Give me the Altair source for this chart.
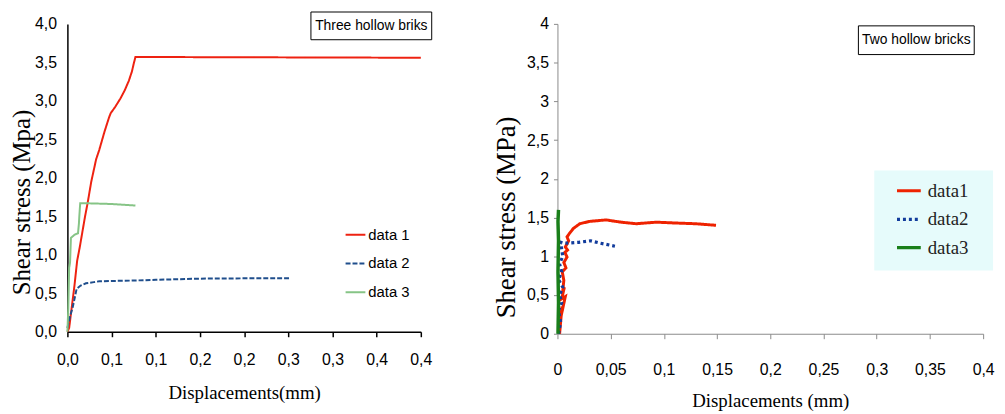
import json
import altair as alt
import pandas as pd

SANS = "Liberation Sans, Arial, sans-serif"
SERIF = "Liberation Serif, Times New Roman, serif"

# ---------------- left panel: Three hollow briks ----------------
L_SERIES = ["data 1", "data 2", "data 3"]
L_COLORS = ["#ee2211", "#1f4e8c", "#86c486"]
L_DASH = [[1, 0], [5, 2], [1, 0]]

L1_X = [0, 0.002, 0.0045, 0.008, 0.011, 0.014, 0.017, 0.020, 0.023, 0.027, 0.0325, 0.036,
        0.042, 0.047, 0.049, 0.054, 0.060, 0.065, 0.0695, 0.073, 0.075, 0.077, 0.4]
L1_Y = [0, 0.05, 0.28, 0.6, 0.92, 1.1, 1.30, 1.5, 1.68, 1.95, 2.24, 2.36,
        2.6, 2.78, 2.84, 2.92, 3.03, 3.14, 3.26, 3.38, 3.48, 3.57, 3.56]

L2_X = [0, 0.003, 0.006, 0.0105, 0.015, 0.021, 0.03, 0.036, 0.05, 0.073, 0.1, 0.148, 0.2, 0.252]
L2_Y = [0.05, 0.2, 0.32, 0.56, 0.6, 0.63, 0.645, 0.656, 0.66, 0.665, 0.675, 0.69, 0.694, 0.694]

L3_X = [0, 0.001, 0.002, 0.003, 0.004, 0.008, 0.012, 0.013, 0.0135, 0.0145, 0.02, 0.05, 0.077]
L3_Y = [0, 0.3, 0.83, 0.9, 1.22, 1.26, 1.28, 1.4, 1.5, 1.67, 1.67, 1.66, 1.64]

L_XTICKS = [0, 0.05, 0.1, 0.15, 0.2, 0.25, 0.3, 0.35, 0.4]
L_XLABELS = ["0,0", "0,1", "0,1", "0,2", "0,2", "0,3", "0,3", "0,4", "0,4"]
L_YTICKS = [0, 0.5, 1, 1.5, 2, 2.5, 3, 3.5, 4]
L_YLABELS = ["0,0", "0,5", "1,0", "1,5", "2,0", "2,5", "3,0", "3,5", "4,0"]
L_BOX = ["Three hollow briks"]

# ---------------- right panel: Two hollow bricks ----------------
R_SERIES = ["data1", "data2", "data3"]
R_COLORS = ["#ee2200", "#123c9c", "#1a7f1a"]
R_DASH = [[1, 0], [3, 3], [1, 0]]

R1_X = [0.002, 0.0043, 0.003, 0.0074, 0.004, 0.0065, 0.005, 0.006, 0.0045, 0.008, 0.006,
        0.009, 0.007, 0.0095, 0.0074, 0.0105, 0.009, 0.011,
        0.015, 0.021, 0.03, 0.038, 0.046, 0.05, 0.06, 0.074, 0.083, 0.093, 0.11, 0.13, 0.149]
R1_Y = [0.0, 0.35, 0.2, 0.48, 0.45, 0.6, 0.55, 0.69, 0.8, 0.85, 0.92,
        0.99, 1.05, 1.08, 1.12, 1.2, 1.25, 1.29,
        1.36, 1.42, 1.45, 1.46, 1.47, 1.46, 1.44, 1.42, 1.43, 1.44, 1.43, 1.42, 1.40]

R2_X = [0.001, 0.003, 0.001, 0.004, 0.002, 0.005, 0.001, 0.004, 0.002, 0.005, 0.003,
        0.0056, 0.01, 0.02, 0.031, 0.04, 0.054]
R2_Y = [0, 0.15, 0.3, 0.4, 0.5, 0.6, 0.7, 0.8, 0.9, 1.0, 1.18,
        1.17, 1.17, 1.18, 1.2, 1.17, 1.13]

R3_X = [0.0005, 0.001, 0.0005, 0.001, 0.0005, 0.001]
R3_Y = [0, 0.4, 0.8, 1.2, 1.45, 1.6]

R_XTICKS = [0, 0.05, 0.1, 0.15, 0.2, 0.25, 0.3, 0.35, 0.4]
R_XLABELS = ["0", "0,05", "0,1", "0,15", "0,2", "0,25", "0,3", "0,35", "0,4"]
R_YTICKS = [0, 0.5, 1, 1.5, 2, 2.5, 3, 3.5, 4]
R_YLABELS = ["0", "0,5", "1", "1,5", "2", "2,5", "3", "3,5", "4"]
R_BOX = ["Two hollow bricks"]


def frame(xs, ys, name):
    return pd.DataFrame({"x": xs, "y": ys, "series": name, "i": list(range(len(xs)))})


left_df = pd.concat([frame(L1_X, L1_Y, L_SERIES[0]), frame(L2_X, L2_Y, L_SERIES[1]),
                     frame(L3_X, L3_Y, L_SERIES[2])], ignore_index=True)
right_df = pd.concat([frame(R1_X, R1_Y, R_SERIES[0]), frame(R2_X, R2_Y, R_SERIES[1]),
                      frame(R3_X, R3_Y, R_SERIES[2])], ignore_index=True)


def lab(labels, step):
    return f"{json.dumps(labels)}[round(datum.value / {step})]"


# ---- left ----
LW, LH = 357, 311
l_legend = alt.Legend(orient="none", legendX=280, legendY=202, title=None,
                      labelFont=SANS, labelFontSize=15, labelColor="black",
                      symbolType="stroke", symbolSize=400, symbolStrokeWidth=2,
                      rowPadding=10, labelOffset=2, padding=0)
left_lines = alt.Chart(left_df).mark_line().encode(
    x=alt.X("x:Q", scale=alt.Scale(domain=[0, 0.4], nice=False, zero=False),
            axis=alt.Axis(values=L_XTICKS, labelExpr=lab(L_XLABELS, 0.05), grid=False,
                          domainColor="black", domainWidth=1.5, tickColor="black",
                          tickWidth=1.5, tickSize=5, labelFont=SANS, labelFontSize=16,
                          labelColor="black", labelPadding=15, labelOverlap=False,
                          labelFlush=False, title="Displacements(mm)", titleFont=SERIF,
                          titleFontSize=19, titleFontWeight="normal", titleColor="black",
                          titleY=52, titleBaseline="top")),
    y=alt.Y("y:Q", scale=alt.Scale(domain=[0, 4], nice=False, zero=False),
            axis=alt.Axis(values=L_YTICKS, labelExpr=lab(L_YLABELS, 0.5), grid=False,
                          ticks=False, domainColor="black", domainWidth=1.5,
                          labelFont=SANS, labelFontSize=16, labelColor="black",
                          labelPadding=11, labelOverlap=False, labelFlush=False,
                          title="Shear stress (Mpa)", titleFont=SERIF, titleFontSize=25,
                          titleFontWeight="normal", titleColor="black", titleX=-33,
                          titleY=180, titleBaseline="bottom", titleAlign="center")),
    color=alt.Color("series:N", scale=alt.Scale(domain=L_SERIES, range=L_COLORS), legend=l_legend),
    strokeDash=alt.StrokeDash("series:N", scale=alt.Scale(domain=L_SERIES, range=L_DASH), legend=l_legend),
    strokeWidth=alt.StrokeWidth("series:N", scale=alt.Scale(domain=L_SERIES, range=[2, 2, 2]), legend=None),
    order="i:Q",
)
l_box_df = pd.DataFrame({"t": L_BOX})
left_rect = alt.Chart(l_box_df).mark_rect(fill="white", stroke="black", strokeWidth=1).encode(
    x=alt.value(246), x2=alt.value(368), y=alt.value(-12), y2=alt.value(16))
left_text = alt.Chart(l_box_df).mark_text(font=SANS, fontSize=14, color="black",
                                          align="center", baseline="middle").encode(
    x=alt.value(307), y=alt.value(2), text="t:N")
left = alt.layer(left_lines, left_rect, left_text).properties(width=LW, height=LH)

# ---- right ----
RW, RH = 430, 313
r_legend = alt.Legend(orient="none", legendX=341, legendY=155, title=None,
                      labelFont=SERIF, labelFontSize=19, labelColor="#222222",
                      symbolType="stroke", symbolSize=576, symbolStrokeWidth=2,
                      rowPadding=4.5, labelOffset=5, padding=0)
r_bg_df = pd.DataFrame({"t": ["legend"]})
right_bg = alt.Chart(r_bg_df).mark_rect(fill="#e6fbfb", stroke=None).encode(
    x=alt.value(320), x2=alt.value(440), y=alt.value(148), y2=alt.value(249))
right_lines = alt.Chart(right_df).mark_line().encode(
    x=alt.X("x:Q", scale=alt.Scale(domain=[0, 0.4], nice=False, zero=False),
            axis=alt.Axis(values=R_XTICKS, labelExpr=lab(R_XLABELS, 0.05), grid=False,
                          domainColor="#8a8a8a", tickColor="#8a8a8a", tickSize=5,
                          labelFont=SANS, labelFontSize=16, labelColor="black",
                          labelPadding=23, labelOverlap=False, labelFlush=False,
                          title="Displacements (mm)", titleFont=SERIF, titleFontSize=19,
                          titleFontWeight="normal", titleColor="black",
                          titleY=58, titleBaseline="top")),
    y=alt.Y("y:Q", scale=alt.Scale(domain=[0, 4], nice=False, zero=False),
            axis=alt.Axis(values=R_YTICKS, labelExpr=lab(R_YLABELS, 0.5), grid=False,
                          domainColor="#8a8a8a", tickColor="#8a8a8a", tickSize=4,
                          labelFont=SANS, labelFontSize=16, labelColor="black",
                          labelPadding=5, labelOverlap=False, labelFlush=False,
                          title="Shear stress (MPa)", titleFont=SERIF, titleFontSize=27,
                          titleFontWeight="normal", titleColor="black", titleX=-37,
                          titleY=195, titleBaseline="bottom", titleAlign="center")),
    color=alt.Color("series:N", scale=alt.Scale(domain=R_SERIES, range=R_COLORS), legend=r_legend),
    strokeDash=alt.StrokeDash("series:N", scale=alt.Scale(domain=R_SERIES, range=R_DASH), legend=r_legend),
    strokeWidth=alt.StrokeWidth("series:N", scale=alt.Scale(domain=R_SERIES, range=[3, 3.5, 2]), legend=None),
    order="i:Q",
)
r_box_df = pd.DataFrame({"t": R_BOX})
right_rect = alt.Chart(r_box_df).mark_rect(fill="white", stroke="black", strokeWidth=1).encode(
    x=alt.value(304), x2=alt.value(421), y=alt.value(2), y2=alt.value(31))
right_text = alt.Chart(r_box_df).mark_text(font=SANS, fontSize=14, color="black",
                                           align="center", baseline="middle").encode(
    x=alt.value(362.5), y=alt.value(16.5), text="t:N")
right = alt.layer(right_bg, right_lines, right_rect, right_text).properties(width=RW, height=RH)

chart = alt.hconcat(left, right, spacing=138, bounds="flush").resolve_scale(
    color="independent", strokeDash="independent", strokeWidth="independent"
).properties(
    padding={"left": 2, "top": 1, "right": 2, "bottom": 0}
).configure_view(stroke=None)

chart.save("out.html", embed_options={"renderer": "svg", "actions": False})
